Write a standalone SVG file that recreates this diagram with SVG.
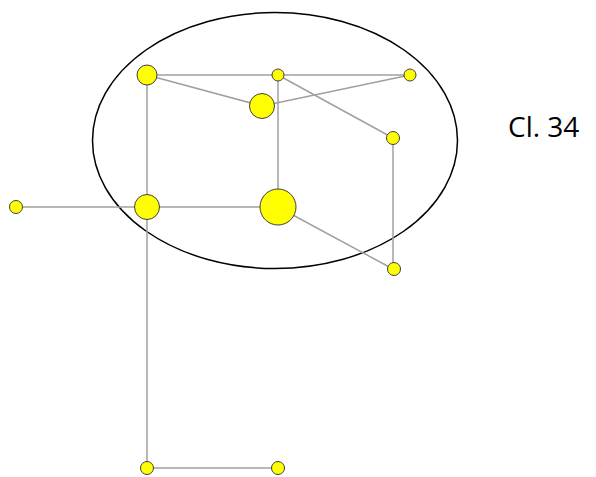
<svg xmlns="http://www.w3.org/2000/svg" width="596" height="477" viewBox="0 0 596 477">
<style>
.e{stroke:#a0a0a0;stroke-width:1.5;fill:none}
.n{fill:#ffff00;stroke:#404040;stroke-width:1}
</style>
<rect width="596" height="477" fill="#fff"/>
<ellipse cx="275" cy="140.5" rx="182.5" ry="128" fill="none" stroke="#000" stroke-width="1.5"/>
<g id="edges">
<line class="e" x1="147" y1="75" x2="278" y2="75"/>
<line class="e" x1="278" y1="75" x2="410" y2="75"/>
<line class="e" x1="147" y1="75" x2="262" y2="106"/>
<line class="e" x1="262" y1="106" x2="410" y2="75"/>
<line class="e" x1="278" y1="75" x2="393" y2="138"/>
<line class="e" x1="278" y1="75" x2="278" y2="207"/>
<line class="e" x1="393" y1="138" x2="393" y2="269"/>
<line class="e" x1="147" y1="75" x2="147" y2="468"/>
<line class="e" x1="16" y1="207" x2="278" y2="207"/>
<line class="e" x1="278" y1="207" x2="393" y2="269"/>
<line class="e" x1="147" y1="468" x2="278" y2="468"/>
</g>
<g id="nA"><circle class="n" cx="147" cy="75" r="10"/></g>
<g id="nB"><circle class="n" cx="278" cy="75" r="6"/></g>
<g id="nC"><circle class="n" cx="410" cy="75" r="6"/></g>
<g id="nD"><circle class="n" cx="262" cy="106" r="12.5"/></g>
<g id="nE"><circle class="n" cx="393" cy="138" r="6.5"/></g>
<g id="nF"><circle class="n" cx="16" cy="207" r="6.5"/></g>
<g id="nG"><circle class="n" cx="147" cy="207" r="12.5"/></g>
<g id="nH"><circle class="n" cx="278" cy="207" r="18"/></g>
<g id="nI"><circle class="n" cx="394" cy="269" r="6.5"/></g>
<g id="nJ"><circle class="n" cx="147" cy="468" r="6.5"/></g>
<g id="nK"><circle class="n" cx="278" cy="468" r="6.5"/></g>
<text x="508" y="137" font-family="Open Sans, Liberation Sans, sans-serif" font-size="28" fill="#000">Cl. 34</text>
</svg>
